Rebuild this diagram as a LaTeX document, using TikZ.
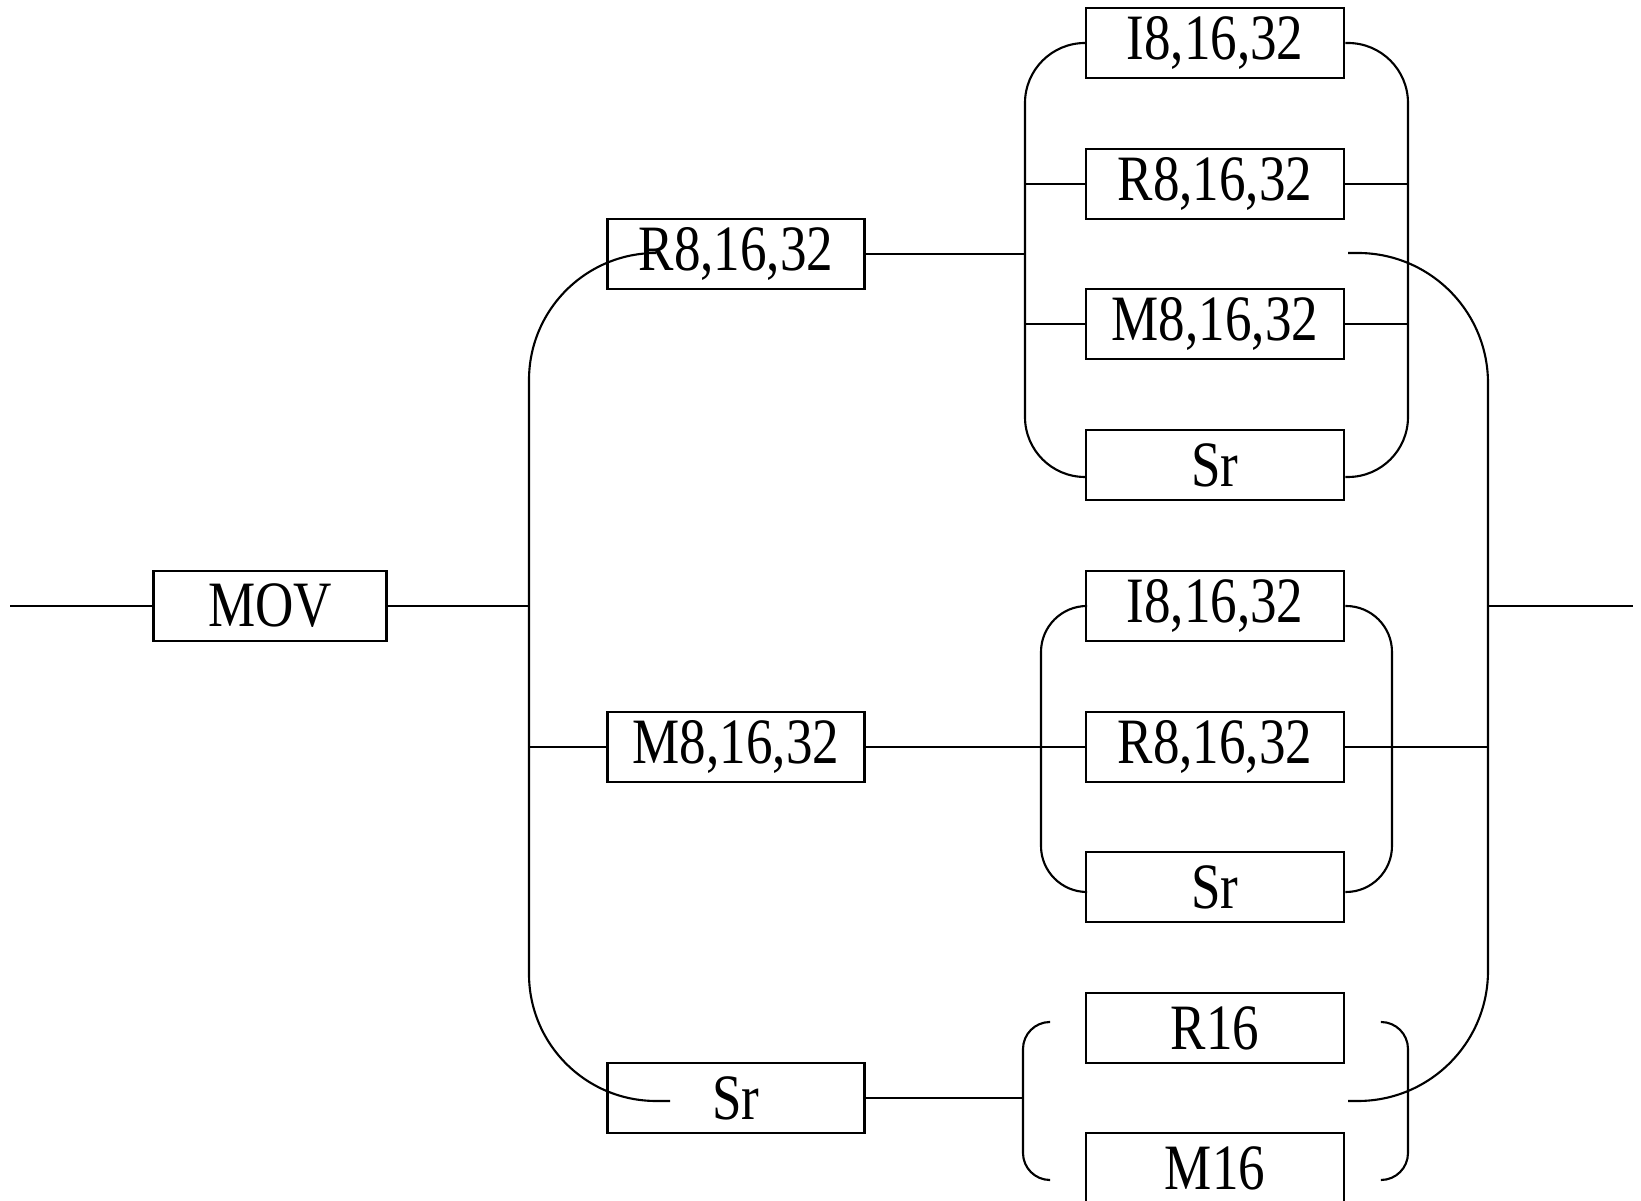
\documentclass[tikz,border=0pt]{standalone}
\usepackage{fontspec}
\setmainfont[FakeStretch=0.82]{Liberation Serif}

\tikzset{
    op/.style={draw, line width=0.8pt, minimum height=0.70cm, inner sep=0pt,
               font=\fontsize{18.4pt}{22pt}\selectfont},
    opmov/.style={op, minimum width=2.33cm},
    opleft/.style={op, minimum width=2.57cm},
    opright/.style={op, minimum width=2.58cm},
    wire/.style={line width=0.6pt}
}

\begin{document}
\begin{tikzpicture}[x=0.01cm, y=-0.01cm]
            \useasboundingbox (0,0) rectangle (1641,1201);

            % 指令与第一操作数
            \node[opmov] (mov) at (270,606) {MOV};
            \node[opleft] (lr) at (736,254) {R8,16,32};
            \node[opleft] (lm) at (736,747) {M8,16,32};
            \node[opleft] (ls) at (736,1098) {Sr};

            % 第二操作数（三组）
            \node[opright] (ta) at (1215,43) {I8,16,32};
            \node[opright] (tb) at (1215,184) {R8,16,32};
            \node[opright] (tc) at (1215,324) {M8,16,32};
            \node[opright] (td) at (1215,465) {Sr};

            \node[opright] (ma) at (1215,606) {I8,16,32};
            \node[opright] (mb) at (1215,747) {R8,16,32};
            \node[opright] (mc) at (1215,887) {Sr};

            \node[opright] (ba) at (1215,1028) {R16};
            \node[opright] (bb) at (1215,1168) {M16};

            % 分支点
            \coordinate (in) at (10,606);
            \coordinate (out) at (1633,606);
            \coordinate (lj) at (529,606);
            \coordinate (rj) at (1488,606);
            \coordinate (lt) at (655,253);
            \coordinate (lb) at (670,1101);
            \coordinate (rt) at (1348,253);
            \coordinate (rb) at (1348,1101);
            \coordinate (tl) at (1025,254);
            \coordinate (tr) at (1408,254);
            \coordinate (ml) at (1041,747);
            \coordinate (mr) at (1392,747);
            \coordinate (bl) at (1023,1098);
            \coordinate (br) at (1408,1098);

            % 主干
            \draw[wire] (in) -- (mov.west);
            \draw[wire] (mov.east) -- (lj);
            \draw[wire] (rj) -- (out);

            % 左侧大括号与右侧大括号
            \draw[wire, rounded corners=1.27cm] (lt) -| (lj) |- (lb);
            \draw[wire, rounded corners=1.30cm] (rt) -| (rj) |- (rb);
            \draw[wire] (lm.west) -- (lm.west -| lj);

            % 第一组：R8,16,32
            \draw[wire] (lr.east) -- (lr.east -| tl);
            \draw[wire, rounded corners=0.60cm] (ta.west) -| (tl) |- ([yshift=-0.12cm]td.west);
            \draw[wire, rounded corners=0.60cm] (ta.east) -| (tr) |- ([yshift=-0.12cm]td.east);
            \foreach \n in {tb,tc} {
                \draw[wire] (\n.west) -- (\n.west -| tl);
                \draw[wire] (\n.east) -- (\n.east -| tr);
            }

            % 第二组：M8,16,32
            \draw[wire] (lm.east) -- (mb.west);
            \draw[wire] (mb.east) -- (mb.east -| rj);
            \draw[wire, rounded corners=0.46cm] (ma.west) -| (ml) |- ([yshift=-0.05cm]mc.west);
            \draw[wire, rounded corners=0.46cm] (ma.east) -| (mr) |- ([yshift=-0.05cm]mc.east);

            % 第三组：Sr
            \draw[wire] (ls.east) -- (ls.east -| bl);
            \draw[wire, rounded corners=0.27cm] (ba.west) ++(-0.36cm,0.06cm) -| (bl) |- ([shift={(-0.36cm,-0.12cm)}]bb.west);
            \draw[wire, rounded corners=0.27cm] (ba.east) ++(0.36cm,0.06cm) -| (br) |- ([shift={(0.36cm,-0.12cm)}]bb.east);
        \end{tikzpicture}
\end{document}
